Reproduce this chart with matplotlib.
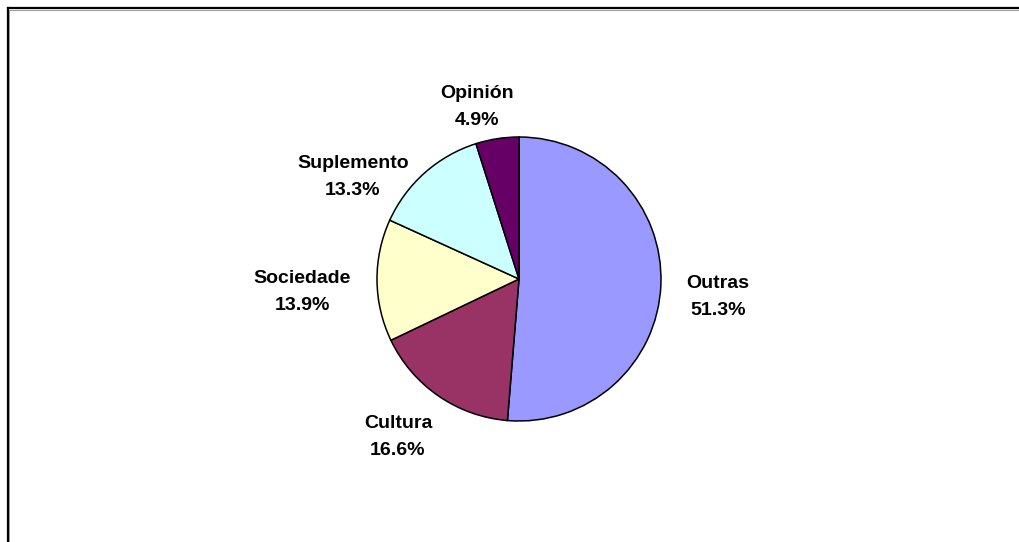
import matplotlib
matplotlib.use("Agg")
import matplotlib.pyplot as plt
from matplotlib.lines import Line2D

# ---- data ----
categories = ["Outras", "Cultura", "Sociedade", "Suplemento", "Opinión"]
shares = [51.3, 16.6, 13.9, 13.3, 4.9]
colors = ["#9999FF", "#993366", "#FFFFCC", "#CCFFFF", "#660066"]

# ---- layout (pixel coordinates, y from top) ----
W, H = 1020, 542
pie_center_px = (519, 279)
pie_radius_px = 142
# label anchor: (x center, first-line baseline)
label_pos_px = [(718, 288), (398, 428), (302, 283), (353, 168), (477, 98)]
line_gap_px = 27

fig = plt.figure(figsize=(W / 100, H / 100), dpi=100)
ax = fig.add_axes([0, 0, 1, 1])

cx, cy = pie_center_px[0], H - pie_center_px[1]
ax.pie(shares, colors=colors, startangle=90, counterclock=False,
       center=(cx, cy), radius=pie_radius_px, frame=True,
       wedgeprops=dict(edgecolor="black", linewidth=1.1))
ax.set_xlim(0, W)
ax.set_ylim(0, H)
ax.set_aspect("equal")
ax.axis("off")

txt_kw = dict(ha="center", va="baseline", fontsize=14, fontweight="bold",
              family="Liberation Sans", color="black")
for name, val, (lx, ly) in zip(categories, shares, label_pos_px):
    ax.text(lx, H - ly, name, **txt_kw)
    ax.text(lx, H - ly - line_gap_px, f"{val:.1f}%", **txt_kw)

# chart area border (top and left only visible)
fig.add_artist(Line2D([8 / W, 1], [1 - 8 / H, 1 - 8 / H], color="black",
                      linewidth=1.6, transform=fig.transFigure))
fig.add_artist(Line2D([8 / W, 8 / W], [0, 1 - 8 / H], color="black",
                      linewidth=1.6, transform=fig.transFigure))
fig.add_artist(Line2D([9.5 / W, 1], [1 - 9.5 / H, 1 - 9.5 / H], color="#999999",
                      linewidth=0.7, transform=fig.transFigure))
fig.add_artist(Line2D([9.5 / W, 9.5 / W], [0, 1 - 9.5 / H], color="#999999",
                      linewidth=0.7, transform=fig.transFigure))

fig.savefig("out.png", dpi=100)
